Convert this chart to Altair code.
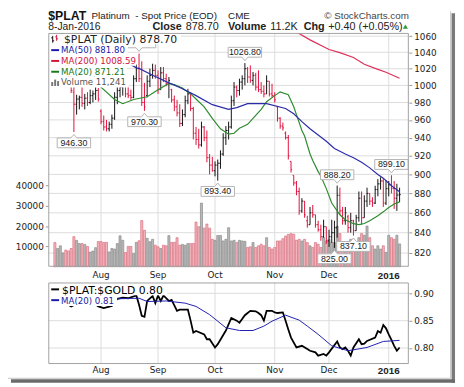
import altair as alt
import pandas as pd

# ---------------- data ----------------
day = list(range(128))   # trading days, 9-Jul-2015 .. 8-Jan-2016
open_ = [1045, 1030, 1038, 1040, 1040, 1022, 1012, 992, 978, 984,
         986, 979, 985, 980, 988, 990, 994, 970, 958, 952,
         950, 955, 962, 986, 994, 998, 1000, 990, 988, 986,
         1008, 1020, 1008, 980, 988, 1005, 1012, 1018, 1012, 995,
         1015, 1008, 1002, 995, 983, 975, 968, 956, 966, 982,
         990, 973, 945, 938, 932, 952, 940, 918, 910, 904,
         910, 912, 922, 940, 948, 952, 982, 998, 994, 1004,
         1008, 1020, 1010, 1006, 1012, 998, 995, 993, 990, 1005,
         990, 988, 975, 962, 953, 945, 940, 914, 899, 891,
         882, 862, 872, 852, 848, 860, 858, 848, 843, 836,
         846, 832, 836, 840, 845, 878, 862, 852, 856, 845,
         852, 842, 855, 875, 855, 872, 880, 872, 870, 884,
         890, 893, 870, 885, 889, 885, 875, 878.3]
high = [1048, 1045, 1046, 1046, 1042, 1025, 1015, 1002, 989, 988,
        998, 990, 992, 995, 994, 998, 997, 972, 965, 960,
        958, 966, 992, 998, 1002, 1004, 1002, 999, 995, 1012,
        1025, 1038.3, 1029, 1003, 1012, 1020, 1026, 1025, 1018, 1022,
        1022, 1014, 1010, 996, 988, 983, 978, 972, 988, 996,
        992, 975, 952, 950, 958, 953, 948, 922, 919, 914,
        916, 926, 945, 953, 958, 988, 1004, 1000, 1008, 1012,
        1026.8, 1022, 1024, 1016, 1015, 1018, 1004, 1000, 1012, 1005,
        1002, 992, 976, 963, 957, 947, 943, 914, 899, 893,
        886, 875, 872, 857, 866, 868, 858, 852, 848, 853,
        846, 843, 853, 852, 888.2, 886, 866, 866, 858, 860,
        853, 858, 882, 882, 878, 886, 880, 876, 888, 895,
        897, 896, 894, 893, 899.1, 893, 890, 886]
low = [1024, 1025, 1030, 1032, 1018, 1008, 991, 946.3, 966, 972,
       975, 972, 976, 978, 980, 983, 981, 955, 948, 947,
       947, 950, 960, 978, 986, 988, 986, 985, 983, 985,
       1004, 1004, 976, 970.3, 986, 998, 1008, 1008, 990, 995,
       1004, 999, 985, 980, 970, 964, 952, 953, 963, 978,
       970, 938, 932, 928, 930, 936, 913, 900, 903, 898,
       893.4, 906, 920, 932, 938, 950, 976, 986, 988, 995,
       1000, 1003, 1003, 1000, 994, 992, 990, 986, 990, 987,
       986, 980, 958, 950, 948, 938, 916, 902, 888, 878,
       858, 860, 855, 845, 848, 855, 845, 841, 832, 835,
       829, 826, 830, 825, 835, 858, 848, 848, 840, 840,
       837.1, 842, 851, 848, 855, 866, 868, 866, 869, 877,
       884, 866, 868, 877, 880, 864, 862, 871]
close = [1030, 1038, 1040, 1042, 1022, 1012, 994, 978, 984, 986,
         979, 985, 980, 988, 990, 994, 984, 958, 952, 950,
         955, 962, 986, 994, 998, 1000, 990, 988, 986, 1008,
         1020, 1008, 980, 975, 1005, 1012, 1018, 1012, 995, 1015,
         1008, 1002, 1006, 983, 975, 968, 956, 966, 982, 990,
         973, 945, 938, 932, 952, 940, 918, 910, 904, 910,
         912, 922, 940, 948, 952, 982, 998, 994, 1004, 1008,
         1020, 1010, 1006, 1012, 998, 995, 993, 990, 1005, 990,
         988, 983, 962, 953, 951, 940, 920, 905, 891, 882,
         862, 872, 858, 848, 860, 858, 848, 843, 836, 846,
         832, 836, 840, 845, 878, 862, 852, 860, 845, 852,
         842, 855, 875, 855, 872, 880, 872, 870, 884, 890,
         893, 870, 885, 889, 885, 875, 878.3, 878.7]
volume = [11900, 9000, 10300, 6800, 8200, 7800, 9000, 14800, 13000, 11400,
          11400, 11000, 10000, 7200, 7700, 9400, 12400, 12400, 11900, 12000,
          7300, 9000, 8700, 11400, 15200, 13000, 7000, 10000, 10000, 6500,
          12000, 12800, 22700, 17900, 14000, 12300, 13500, 10600, 9800, 9000,
          10600, 10300, 15300, 12000, 12000, 14300, 10600, 11000, 10600, 11400,
          11400, 11500, 22000, 19700, 31300, 19000, 21000, 19000, 13500, 13000,
          15400, 15400, 12700, 13500, 19200, 12700, 13000, 11900, 13000, 12700,
          12500, 9500, 9800, 11900, 9500, 10300, 11100, 10300, 14300, 9500,
          8700, 9500, 12700, 12700, 13800, 15100, 15900, 16300, 16000, 13000,
          13500, 12700, 13500, 11900, 10300, 9500, 11900, 11100, 9500, 14300,
          12700, 13500, 12000, 11900, 20000, 16300, 11100, 10600, 11100, 13500,
          13500, 9500, 14300, 16300, 15500, 20000, 14300, 10300, 8700, 10300,
          8700, 10300, 7100, 15500, 14300, 13500, 15500, 11241]

ma20_day = [0, 3, 8, 12, 15, 17, 22, 25, 29, 34, 38, 42, 44, 47, 50, 52, 55, 58, 61, 64,
            66, 68, 71, 73, 76, 78, 81, 83, 86, 88, 89, 91, 92, 94, 95, 97, 98, 100, 102, 105,
            107, 110, 112, 114, 116, 119, 121, 123, 125, 127]
ma20_val = [1068, 1063, 1045, 1025, 1008, 998, 983.5, 978.6, 983.5, 986.6, 994.8, 1002.3, 1001, 997, 990, 984, 975, 961.7, 950, 943.9,
            945, 950.5, 955, 961.7, 972, 980.9, 988, 992.4, 989, 975, 966, 948, 941.8, 922, 915, 903, 898, 885, 870, 858,
            853, 849, 848, 849.2, 852, 857, 861, 865.5, 869, 871.21]
ma50_day = [15, 20, 25, 30, 31, 36, 42, 46, 52, 58, 64, 67, 71, 78, 85, 88, 91, 94, 97, 100,
            103, 107, 110, 113, 116, 119, 121, 124, 127]
ma50_val = [1050, 1040, 1031, 1021, 1020.4, 1012, 1003, 997.5, 988, 977.5, 972, 974, 978.6, 978.6, 973, 967, 958, 950, 943, 936,
            928, 922, 918, 913, 907, 900, 896, 888, 881.8]
ma200_day = [85, 89, 94, 101, 105, 110, 114, 119, 122, 127]
ma200_val = [1072, 1065.3, 1055.4, 1043.5, 1039.6, 1033.6, 1025.4, 1019.2, 1015.7, 1008.59]

ratio_day = [0, 2, 4, 6, 8, 10, 12, 14, 16, 18, 21, 23, 25, 27, 30, 31, 32, 33, 34, 36,
             37, 38, 39, 40, 42, 43, 45, 46, 49, 50, 51, 52, 55, 56, 57, 59, 60, 63, 65, 67,
             68, 70, 72, 74, 75, 76, 77, 78, 80, 81, 82, 84, 85, 86, 87, 89, 91, 93, 94, 96,
             97, 99, 100, 101, 104, 105, 106, 107, 108, 109, 110, 112, 113, 114, 115, 118, 119, 120, 121, 122,
             123, 124, 125, 126, 127]
ratio_val = [0.884, 0.886, 0.882, 0.876, 0.881, 0.884, 0.886, 0.883, 0.876, 0.873, 0.877, 0.890, 0.892, 0.891, 0.896, 0.879, 0.859, 0.857, 0.886, 0.895,
             0.882, 0.896, 0.886, 0.896, 0.886, 0.888, 0.868, 0.870, 0.870, 0.850, 0.828, 0.831, 0.825, 0.816, 0.816, 0.801, 0.807, 0.832, 0.855, 0.850,
             0.846, 0.860, 0.868, 0.867, 0.864, 0.860, 0.850, 0.868, 0.868, 0.865, 0.864, 0.865, 0.850, 0.834, 0.819, 0.801, 0.804, 0.798, 0.795, 0.792,
             0.786, 0.789, 0.786, 0.792, 0.812, 0.801, 0.798, 0.801, 0.795, 0.786, 0.801, 0.816, 0.807, 0.808, 0.813, 0.819, 0.831, 0.828, 0.842, 0.836,
             0.825, 0.815, 0.804, 0.795, 0.801]
rma_day = [19, 23, 31, 34, 41, 48, 52, 57, 63, 68, 73, 77, 80, 85, 90, 93, 97, 102, 108, 115, 121, 127]
rma_val = [0.889, 0.890, 0.891, 0.885, 0.886, 0.882, 0.876, 0.861, 0.837, 0.832, 0.832, 0.840, 0.849, 0.860, 0.851, 0.840, 0.825, 0.804, 0.795, 0.801, 0.812, 0.814]

month_day = [17, 38, 59, 81, 101, 123]
month_lbl = ["Aug", "Sep", "Oct", "Nov", "Dec", "2016"]
price_ticks = [820, 840, 860, 880, 900, 920, 940, 960, 980, 1000, 1020, 1040, 1060]
vol_ticks = [10000, 20000, 30000, 40000]
ratio_ticks = [0.80, 0.85, 0.90]

lab_day = [7, 33, 60, 70, 103, 104, 110, 124]
lab_val = [946.30, 970.30, 893.40, 1026.80, 825.00, 888.20, 837.10, 899.10]
lab_kind = ["low", "low", "low", "high", "low", "high", "low", "high"]
hidden_high_day = [31]           # swing high whose callout sits under the legend
hidden_high_val = [1038.30]

# ---------------- layout ----------------
W, H = 367, 337
H1 = 238           # price panel height
L0, L1 = 254, 337  # ratio panel top / bottom
GRID = "#dcdcdc"
FRAME = "#a0a0a0"
TXT = "#222222"
AX = dict(grid=False, domain=False, tickSize=3, tickColor="#999999", labelPadding=2,
          labelFont="DejaVu Sans", labelFontSize=9, labelColor=TXT, title=None, labelOverlap=False)

xs = alt.Scale(domain=[-0.63, 128.6], nice=False, zero=False)
ps = alt.Scale(type="log", domain=[806.8, 1064.1], range=[H1, 0], nice=False)
vs = alt.Scale(domain=[0, 115000], range=[H1, 0], nice=False)
rs = alt.Scale(domain=[0.7707, 0.9198], range=[L1, L0], nice=False, zero=False)

df = pd.DataFrame({"day": day, "o": open_, "h": high, "l": low, "c": close, "vol": volume})
df["dir"] = ["up" if d > 0 else "down" for d in df["c"].diff().fillna(-1)]
dir_color = alt.Scale(domain=["up", "down"], range=["#111111", "#e0103c"])
X = alt.X("day:Q", scale=xs, axis=None)
one = pd.DataFrame({"k": [0]})
months = pd.DataFrame({"m": month_day, "lbl": month_lbl})


def text(s, x, y, size=9.0, font="DejaVu Sans", color=TXT, weight="normal", align="left"):
    return alt.Chart(one).mark_text(text=s, font=font, fontSize=size, fontWeight=weight, color=color,
                                    align=align, baseline="alphabetic").encode(x=alt.value(x), y=alt.value(y))


def rule(x1, y1, x2, y2, color, w=1.0):
    return alt.Chart(one).mark_rule(color=color, strokeWidth=w).encode(
        x=alt.value(x1), x2=alt.value(x2), y=alt.value(y1), y2=alt.value(y2))


def rect(x1, x2, y1, y2, fill, stroke=None):
    if stroke:
        m = alt.Chart(one).mark_rect(fill=fill, fillOpacity=0, stroke=stroke, strokeWidth=1)
    else:
        m = alt.Chart(one).mark_rect(fill=fill, strokeWidth=0)
    return m.encode(x=alt.value(x1), x2=alt.value(x2), y=alt.value(y1), y2=alt.value(y2))


layers = []
# grids
layers.append(alt.Chart(pd.DataFrame({"p": price_ticks})).mark_rule(color=GRID).encode(
    y=alt.Y("p:Q", scale=ps, axis=None), x=alt.value(0), x2=alt.value(W)))
layers.append(alt.Chart(pd.DataFrame({"r": ratio_ticks})).mark_rule(color=GRID).encode(
    y=alt.Y("r:Q", scale=rs, axis=None), x=alt.value(0), x2=alt.value(W)))
layers.append(alt.Chart(months).mark_rule(color=GRID).encode(
    x=alt.X("m:Q", scale=xs, axis=None), y=alt.value(0), y2=alt.value(H1)))
layers.append(alt.Chart(months).mark_rule(color=GRID).encode(
    x=alt.X("m:Q", scale=xs, axis=None), y=alt.value(L0), y2=alt.value(L1)))

# volume
layers.append(alt.Chart(df).mark_bar(width=2.1, strokeWidth=0.7, clip=True).encode(
    x=X,
    y=alt.Y("vol:Q", scale=vs, axis=alt.Axis(orient="left", values=vol_ticks, format="d", **AX)),
    fill=alt.Fill("dir:N", scale=alt.Scale(domain=["up", "down"], range=["#b9b9b9", "#f2b5bd"]), legend=None),
    stroke=alt.Stroke("dir:N", scale=alt.Scale(domain=["up", "down"], range=["#8a8a8a", "#d9707f"]), legend=None)))

# OHLC bars
col = alt.Color("dir:N", scale=dir_color, legend=None)
layers.append(alt.Chart(df).mark_rule(strokeWidth=1, clip=True).encode(
    x=X, y=alt.Y("l:Q", scale=ps, axis=alt.Axis(orient="right", values=price_ticks, format="d", **AX)),
    y2="h:Q", color=col))
layers.append(alt.Chart(df).transform_calculate(dl="datum.day - 0.42").mark_rule(strokeWidth=1, clip=True).encode(
    x=alt.X("dl:Q", scale=xs, axis=None), x2="day:Q", y=alt.Y("o:Q", scale=ps, axis=None), color=col))
layers.append(alt.Chart(df).transform_calculate(dr="datum.day + 0.42").mark_rule(strokeWidth=1, clip=True).encode(
    x=X, x2="dr:Q", y=alt.Y("c:Q", scale=ps, axis=None), color=col))

# moving averages
for dd, vv, c in [(ma20_day, ma20_val, "#2e8b2e"), (ma50_day, ma50_val, "#2c2ca8"), (ma200_day, ma200_val, "#e0305a")]:
    layers.append(alt.Chart(pd.DataFrame({"day": dd, "v": vv})).mark_line(color=c, strokeWidth=1.2, clip=True).encode(
        x=X, y=alt.Y("v:Q", scale=ps, axis=None)))

# price callouts
lab = pd.DataFrame({"day": lab_day, "v": lab_val, "kind": lab_kind, "txt": [f"{v:.2f}" for v in lab_val]})
low_path = "M-0.85,0.3L-0.15,0.3L0,0.12L0.15,0.3L0.85,0.3L0.85,0.8L-0.85,0.8Z"
high_path = "M-0.85,-0.3L-0.15,-0.3L0,-0.12L0.15,-0.3L0.85,-0.3L0.85,-0.8L-0.85,-0.8Z"
layers.append(alt.Chart(pd.DataFrame({"day": hidden_high_day, "v": hidden_high_val})).mark_point(
    shape=high_path, size=1600, filled=True, fill="white", stroke="#b4b4b4", strokeWidth=1, opacity=1).encode(
    x=X, y=alt.Y("v:Q", scale=ps, axis=None)))
for kind, path, dy in [("low", low_path, 11), ("high", high_path, -11)]:
    sub = alt.Chart(lab).transform_filter(f"datum.kind == '{kind}'")
    layers.append(sub.mark_point(shape=path, size=1600, filled=True, fill="white", stroke="#b4b4b4",
                                 strokeWidth=1, opacity=1).encode(x=X, y=alt.Y("v:Q", scale=ps, axis=None)))
    layers.append(sub.mark_text(dy=dy, baseline="middle", font="Liberation Sans", fontSize=9, color=TXT).encode(
        x=X, y=alt.Y("v:Q", scale=ps, axis=None), text="txt:N"))

# main legend
layers += [rect(0, 135, 1, 11.5, "white"), rect(0, 81, 11.5, 22.5, "white"), rect(0, 89.5, 22.5, 33.5, "white"),
           rect(0, 80, 33.5, 44.5, "white"), rect(0, 82, 44.5, 55.5, "white")]
layers += [rule(4.5, 3, 4.5, 10, "#111111"), rule(3, 5, 4.5, 5, "#111111"), rule(4.5, 8, 6, 8, "#111111"),
           rule(8.5, 2, 8.5, 8, "#e0103c"), rule(7, 4, 8.5, 4, "#e0103c"), rule(8.5, 6, 10, 6, "#e0103c")]
layers.append(text("$PLAT (Daily) 878.70", 16, 10, size=11))
layers += [rule(3, 17.5, 11, 17.5, "#1a1aa6", 2), text("MA(50) 881.80", 13, 20.5, size=8.8, color="#1a1aa6")]
layers += [rule(3, 28.5, 11, 28.5, "#d4143c", 2), text("MA(200) 1008.59", 13, 31.5, size=8.8, color="#d4143c")]
layers += [rule(3, 39.5, 11, 39.5, "#177a17", 2), text("MA(20) 871.21", 13, 42.5, size=8.8, color="#177a17")]
layers += [rect(3, 5, 50, 54, "#777777"), rect(6, 8, 47.5, 54, "#777777"), rect(9, 11, 49, 54, "#777777"),
           text("Volume 11,241", 13, 53, size=8.8, color="#555555")]

# ratio panel
layers.append(alt.Chart(pd.DataFrame({"day": ratio_day, "r": ratio_val})).mark_line(color="#000000", strokeWidth=1.8).encode(
    x=X, y=alt.Y("r:Q", scale=rs, axis=alt.Axis(orient="right", values=ratio_ticks, format=".2f", **AX))))
layers.append(alt.Chart(pd.DataFrame({"day": rma_day, "r": rma_val})).mark_line(color="#2020b0", strokeWidth=1).encode(
    x=X, y=alt.Y("r:Q", scale=rs, axis=None)))
layers += [rect(0, 121, 255, 267, "white"), rect(0, 70, 267, 278, "white")]
layers += [rule(3, 261, 11, 261, "#000000", 2), text("$PLAT:$GOLD 0.80", 14, 265.5, size=11, color="#000000")]
layers += [rule(3, 272, 11, 272, "#1a1aa6", 2), text("MA(20) 0.81", 13, 275.5, size=8.8, color="#1a1aa6")]

# frames
layers += [rect(0.5, 366.5, 0.5, H1 - 0.5, "white", FRAME), rect(0.5, 366.5, L0 + 0.5, L1 - 0.5, "white", FRAME)]

# month labels
for ylab in [249.5, 346.5]:
    layers.append(alt.Chart(months).transform_filter("datum.lbl != '2016'").mark_text(
        font="DejaVu Sans", fontSize=9, color=TXT, baseline="alphabetic").encode(
        x=alt.X("m:Q", scale=xs, axis=None), y=alt.value(ylab), text="lbl:N"))
    layers.append(alt.Chart(months).transform_filter("datum.lbl == '2016'").mark_text(
        font="Liberation Sans", fontSize=10, fontWeight="bold", color=TXT, baseline="alphabetic").encode(
        x=alt.X("m:Q", scale=xs, axis=None), y=alt.value(ylab + 0.5), text="lbl:N"))

# header
HL = -2.5   # baseline of the second header line
layers += [text("$PLAT", 0, -13.5, size=12.5, font="Liberation Sans", weight="bold", color="#111111"),
           text("Platinum\u00a0 - Spot Price (EOD)", 44, -14, size=10, font="Liberation Sans"),
           text("CME", 183, -14, size=10, font="Liberation Sans"),
           text("\u00a9 StockCharts.com", 367, -14.5, size=10, font="Liberation Sans", color="#444444", align="right"),
           text("8-Jan-2016", 0, HL, size=10.5, font="Liberation Sans"),
           text("Close", 106, HL, size=11, font="Liberation Sans", weight="bold"),
           text("878.70", 140, HL, size=11, font="Liberation Sans"),
           text("Volume", 183, HL, size=11, font="Liberation Sans", weight="bold"),
           text("11.2K", 226, HL, size=11, font="Liberation Sans"),
           text("Chg", 260, HL, size=11, font="Liberation Sans", weight="bold"),
           text("+0.40 (+0.05%)", 285, HL, size=11, font="Liberation Sans")]
layers.append(alt.Chart(one).mark_point(shape="triangle-up", filled=True, color="#2e9e2e", size=26, opacity=1).encode(
    x=alt.value(363.5), y=alt.value(-6.5)))

# border and shadow
layers += [rule(409.5, -22, 409.5, 351.5, "#c4c4c4"), rect(410.5, 414, -20, 356, "#7a7a7a"),
           rule(-41, 351.5, 409.5, 351.5, "#c4c4c4"), rect(-38, 414, 352.5, 356, "#6a6a6a")]

chart = alt.layer(*layers).resolve_scale(y="independent").properties(
    width=W, height=H,
    padding={"left": 41, "top": 22, "right": 48, "bottom": 20},
    autosize=alt.AutoSizeParams(type="none"),
).configure_view(strokeWidth=0)

chart.save("out.html", embed_options={"renderer": "svg", "actions": False})
